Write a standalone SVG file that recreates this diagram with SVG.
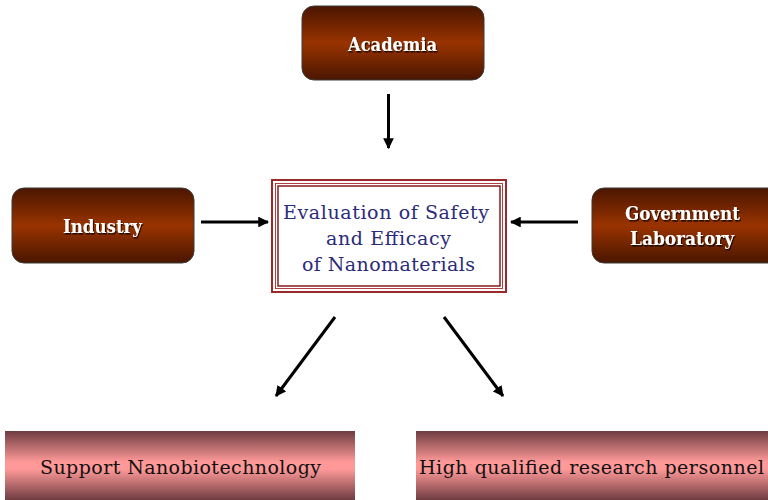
<svg xmlns="http://www.w3.org/2000/svg" width="768" height="500" viewBox="0 0 768 500">
  <defs>
    <linearGradient id="brown" x1="0" y1="0" x2="0" y2="1">
      <stop offset="0" stop-color="#4a1600"/>
      <stop offset="0.5" stop-color="#993300"/>
      <stop offset="1" stop-color="#4a1600"/>
    </linearGradient>
    <linearGradient id="pink" x1="0" y1="0" x2="0" y2="1">
      <stop offset="0" stop-color="#6e3c40"/>
      <stop offset="0.45" stop-color="#ff9999"/>
      <stop offset="0.55" stop-color="#ff9999"/>
      <stop offset="1" stop-color="#6e3c40"/>
    </linearGradient>
    <filter id="shadow" x="-10%" y="-10%" width="130%" height="140%">
      <feDropShadow dx="1" dy="1.5" stdDeviation="0.6" flood-color="#000" flood-opacity="0.8"/>
    </filter>
    <marker id="head" viewBox="0 0 10 10" refX="9" refY="5" markerWidth="3.6" markerHeight="3.6" orient="auto" markerUnits="strokeWidth">
      <path d="M0,0 L10,5 L0,10 z" fill="#000"/>
    </marker>
  </defs>
  <style>
    .src { fill: url(#brown); stroke: #3a3a3a; stroke-width: 1; }
    .srcText { font-family: 'DejaVu Serif', 'Liberation Serif', serif; font-weight: bold; font-size: 18px; fill: #ffffff; text-anchor: start; filter: url(#shadow); }
    .out { fill: url(#pink); }
    .outText { font-family: 'DejaVu Serif', 'Liberation Serif', serif; font-size: 19px; fill: #111; text-anchor: start; }
    .midText { font-family: 'DejaVu Serif', 'Liberation Serif', serif; font-size: 19px; fill: #2b2b7a; text-anchor: start; }
    .conn { stroke: #000; stroke-width: 3; fill: none; marker-end: url(#head); }
  </style>

  <rect width="768" height="500" fill="#ffffff"/>

  <g id="academia">
    <rect class="src" x="302" y="6" width="182" height="74" rx="12"/>
    <text class="srcText" x="348" y="51" textLength="89" lengthAdjust="spacingAndGlyphs">Academia</text>
  </g>

  <g id="industry">
    <rect class="src" x="12" y="188" width="182" height="75" rx="12"/>
    <text class="srcText" x="63" y="233" textLength="79" lengthAdjust="spacingAndGlyphs">Industry</text>
  </g>

  <g id="government">
    <rect class="src" x="592" y="188" width="190" height="75" rx="12"/>
    <text class="srcText" x="625" y="220" textLength="115" lengthAdjust="spacingAndGlyphs">Government</text>
    <text class="srcText" x="630" y="245" textLength="104" lengthAdjust="spacingAndGlyphs">Laboratory</text>
  </g>

  <g id="evaluation">
    <rect x="272" y="180" width="234" height="112" fill="#ffffff" stroke="#9a2a2a" stroke-width="2"/>
    <rect x="275.5" y="183.5" width="227" height="105" fill="none" stroke="#b04040" stroke-width="1"/>
    <rect x="278" y="186" width="222" height="100" fill="#ffffff" stroke="#8a1a1a" stroke-width="1.5"/>
    <text class="midText" x="283" y="219" textLength="206" lengthAdjust="spacing">Evaluation of Safety</text>
    <text class="midText" x="326" y="245" textLength="125" lengthAdjust="spacing">and Efficacy</text>
    <text class="midText" x="302" y="271" textLength="173" lengthAdjust="spacing">of Nanomaterials</text>
  </g>

  <g id="support">
    <rect class="out" x="5" y="431" width="350" height="69"/>
    <text class="outText" x="40" y="474" textLength="281" lengthAdjust="spacing">Support Nanobiotechnology</text>
  </g>

  <g id="personnel">
    <rect class="out" x="416" y="431" width="352" height="69"/>
    <text class="outText" x="419" y="474" textLength="345" lengthAdjust="spacing">High qualified research personnel</text>
  </g>

  <g id="connectors">
    <line class="conn" x1="388.5" y1="94" x2="388.5" y2="148"/>
    <line class="conn" x1="201" y1="222" x2="268" y2="222"/>
    <line class="conn" x1="578" y1="222" x2="511" y2="222"/>
    <line class="conn" x1="335" y1="317" x2="276" y2="396"/>
    <line class="conn" x1="444" y1="317" x2="503" y2="396"/>
  </g>
</svg>
